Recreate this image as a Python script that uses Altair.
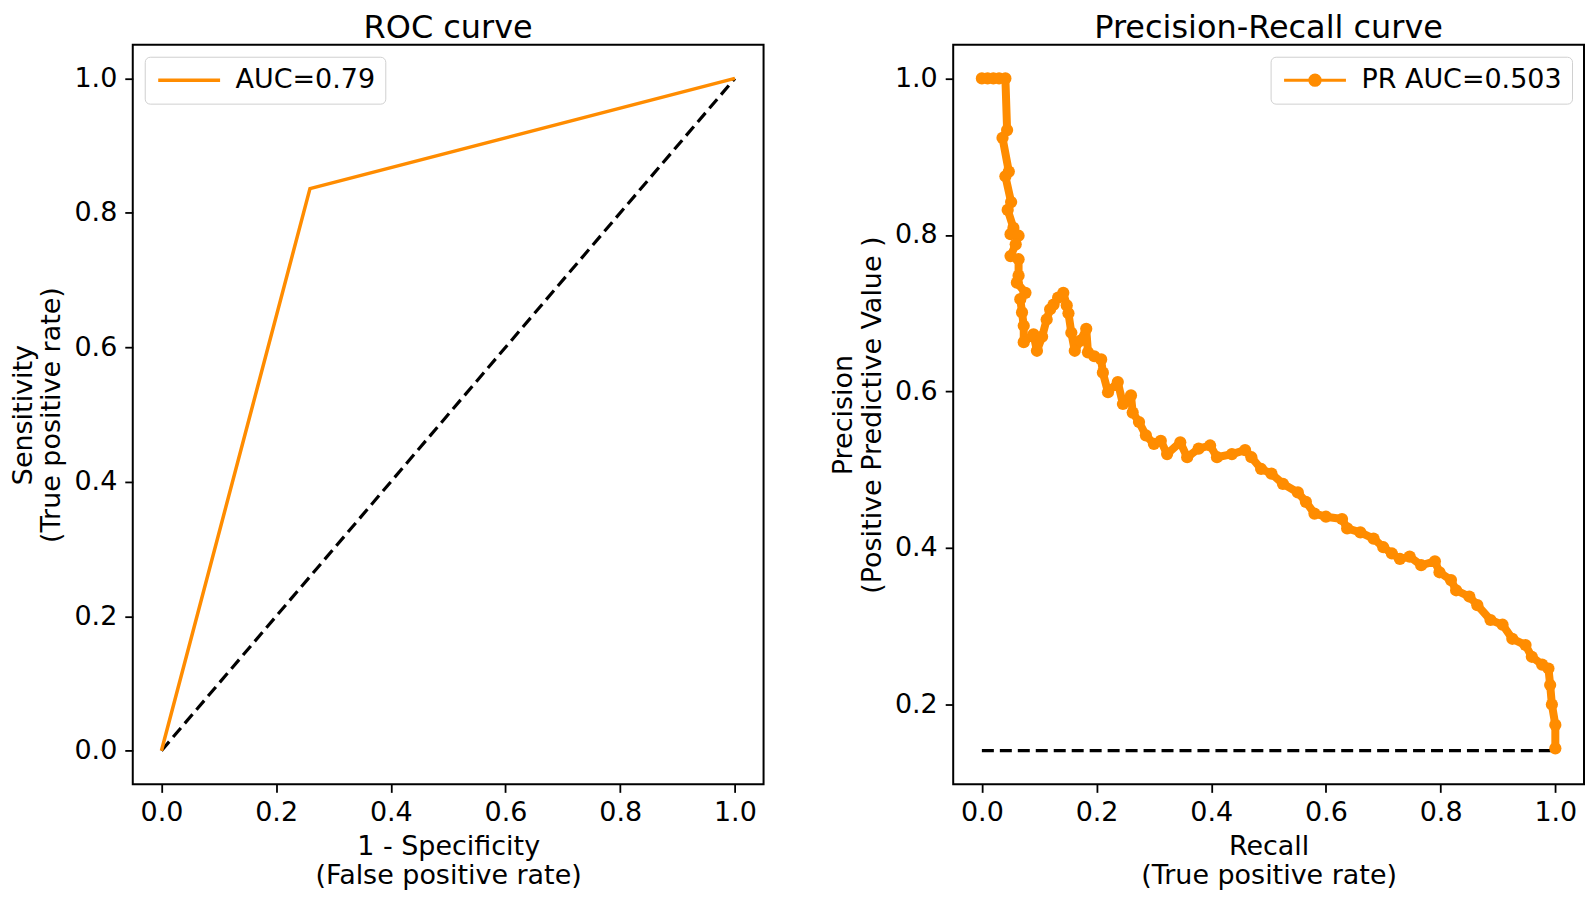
import altair as alt
import pandas as pd

# ---------------- data ----------------
roc_fpr = [0.0, 0.259, 1.0]
roc_tpr = [0.0, 0.836, 1.0]
roc_label = "AUC=0.79"

chance_x = [0.0, 1.0]
chance_y = [0.0, 1.0]

pr_recall = [0.000, 0.010, 0.020, 0.030, 0.041,
             0.044, 0.036, 0.047, 0.041, 0.051, 0.045, 0.055, 0.050, 0.064, 0.059,
             0.050, 0.064, 0.064, 0.061, 0.076, 0.067, 0.070, 0.073, 0.073, 0.090,
             0.096, 0.105, 0.113, 0.119, 0.125, 0.133, 0.142, 0.148, 0.151, 0.156,
             0.162, 0.172, 0.182, 0.185, 0.196, 0.208, 0.211, 0.220, 0.237, 0.246,
             0.260, 0.263, 0.274, 0.286, 0.300, 0.312, 0.323, 0.346, 0.358, 0.378,
             0.398, 0.410, 0.436, 0.459, 0.470, 0.487, 0.505, 0.525, 0.551, 0.565,
             0.580, 0.600, 0.628, 0.637, 0.660, 0.683, 0.700, 0.715, 0.729, 0.746,
             0.766, 0.790, 0.798, 0.818, 0.827, 0.850, 0.864, 0.887, 0.908, 0.925,
             0.948, 0.959, 0.977, 0.988, 0.991, 0.994, 1.000, 1.000]
pr_precision = [1.000, 1.000, 1.000, 1.000, 1.000,
                0.934, 0.924, 0.881, 0.875, 0.842, 0.832, 0.809, 0.801, 0.799, 0.788,
                0.773, 0.769, 0.748, 0.739, 0.726, 0.718, 0.701, 0.684, 0.663, 0.673,
                0.652, 0.670, 0.692, 0.705, 0.711, 0.720, 0.726, 0.710, 0.700, 0.675,
                0.652, 0.665, 0.680, 0.650, 0.645, 0.641, 0.624, 0.599, 0.612, 0.584,
                0.595, 0.573, 0.561, 0.544, 0.533, 0.537, 0.520, 0.535, 0.516, 0.527,
                0.531, 0.516, 0.520, 0.525, 0.516, 0.501, 0.495, 0.482, 0.471, 0.459,
                0.444, 0.440, 0.437, 0.425, 0.420, 0.412, 0.401, 0.393, 0.386, 0.389,
                0.378, 0.383, 0.369, 0.359, 0.346, 0.338, 0.327, 0.308, 0.302, 0.284,
                0.276, 0.261, 0.251, 0.246, 0.225, 0.200, 0.174, 0.144]
pr_label = "PR AUC=0.503"

baseline_x = [0.0, 1.0]
baseline_y = [0.141, 0.141]

tick_vals = [0.0, 0.2, 0.4, 0.6, 0.8, 1.0]
pr_yticks = [0.2, 0.4, 0.6, 0.8, 1.0]

# ---------------- tables ----------------
roc_df = pd.DataFrame({"x": roc_fpr, "y": roc_tpr, "series": roc_label,
                       "order": list(range(len(roc_fpr)))})
chance_df = pd.DataFrame({"x": chance_x, "y": chance_y})
pr_df = pd.DataFrame({"x": pr_recall, "y": pr_precision, "series": pr_label,
                      "order": list(range(len(pr_recall)))})
base_df = pd.DataFrame({"x": baseline_x, "y": baseline_y})

ORANGE = "#ff8c00"
FONT = "DejaVu Sans"
W, H = 632, 741

line_sym = "M-3,0H3"
dot_line_sym = "M-3,0H3M0.5,0A0.5,0.5,0,1,1,-0.5,0A0.5,0.5,0,1,1,0.5,0Z"

x_scale = alt.Scale(domain=[-0.05, 1.05], nice=False, zero=False)

def xenc(title):
    return alt.X("x:Q", scale=x_scale,
                 axis=alt.Axis(values=tick_vals, format=".1f", title=title,
                               titlePadding=8, labelPadding=7, labelFlush=False))

# ---------------- ROC panel ----------------
roc_y_scale = alt.Scale(domain=[-0.05, 1.05], nice=False, zero=False)
roc_yaxis = alt.Axis(values=tick_vals, format=".1f", labelPadding=8,
                     title=["Sensitivity", "(True positive rate)"], titlePadding=8)
roc_xt = ["1 - Specificity", "(False positive rate)"]

chance = alt.Chart(chance_df).mark_line(
    color="black", strokeWidth=3.2, strokeDash=[12, 6]
).encode(x=xenc(roc_xt), y=alt.Y("y:Q", scale=roc_y_scale, axis=roc_yaxis))

roc_line = alt.Chart(roc_df).mark_line(strokeWidth=3.5).encode(
    x=xenc(roc_xt),
    y=alt.Y("y:Q", scale=roc_y_scale, axis=roc_yaxis),
    order="order:Q",
    color=alt.Color("series:N",
                    scale=alt.Scale(domain=[roc_label], range=[ORANGE]),
                    legend=alt.Legend(title=None, orient="top-left",
                                      symbolType=line_sym, symbolSize=427,
                                      symbolStrokeWidth=3.5, symbolOffset=21)),
)

roc = alt.layer(chance, roc_line).properties(
    width=W, height=H,
    title=alt.TitleParams("ROC curve", fontSize=32, font=FONT,
                          fontWeight="normal", color="black", offset=0),
)

# ---------------- PR panel ----------------
pr_y_scale = alt.Scale(domain=[0.098, 1.043], nice=False, zero=False)
pr_yaxis = alt.Axis(values=pr_yticks, format=".1f", labelPadding=8,
                    title=["Precision", "(Positive Predictive Value )"], titlePadding=8)
pr_xt = ["Recall", "(True positive rate)"]

base = alt.Chart(base_df).mark_line(
    color="black", strokeWidth=3.2, strokeDash=[12, 6]
).encode(x=xenc(pr_xt), y=alt.Y("y:Q", scale=pr_y_scale, axis=pr_yaxis))

pr_line = alt.Chart(pr_df).mark_line(strokeWidth=8, color=ORANGE,
                                     strokeJoin="round", strokeCap="round").encode(
    x=xenc(pr_xt),
    y=alt.Y("y:Q", scale=pr_y_scale, axis=pr_yaxis),
    order="order:Q",
)

pr_pts = alt.Chart(pr_df).mark_point(filled=True, size=150, opacity=1).encode(
    x=xenc(pr_xt),
    y=alt.Y("y:Q", scale=pr_y_scale, axis=pr_yaxis),
    color=alt.Color("series:N",
                    scale=alt.Scale(domain=[pr_label], range=[ORANGE]),
                    legend=alt.Legend(title=None, orient="top-right",
                                      symbolType=dot_line_sym, symbolSize=427,
                                      symbolStrokeWidth=3, symbolStrokeColor=ORANGE,
                                      symbolFillColor=ORANGE, symbolOffset=21)),
)

pr = alt.layer(base, pr_line, pr_pts).properties(
    width=W, height=H,
    title=alt.TitleParams("Precision-Recall curve", fontSize=32, font=FONT,
                          fontWeight="normal", color="black", offset=0),
)

chart = alt.hconcat(roc, pr, spacing=64).resolve_scale(
    color="independent"
).resolve_legend(color="independent").properties(
    padding={"left": 0, "right": 0, "top": 2, "bottom": 0}, background="white"
).configure_view(
    stroke="black", strokeWidth=2
).configure_axis(
    domain=False, grid=False, tickColor="black", tickWidth=1.8, tickSize=8,
    labelFont=FONT, labelFontSize=27, labelColor="black",
    titleFont=FONT, titleFontSize=27, titleFontWeight="normal", titleColor="black",
    titleLineHeight=29,
).configure_legend(
    labelFont=FONT, labelFontSize=27, labelColor="black", padding=10,
    cornerRadius=5, strokeColor="#d0d0d0", fillColor="white", offset=12,
    labelOffset=33, labelLimit=500,
)

chart.save("out.html", embed_options={"renderer": "svg", "actions": False})
